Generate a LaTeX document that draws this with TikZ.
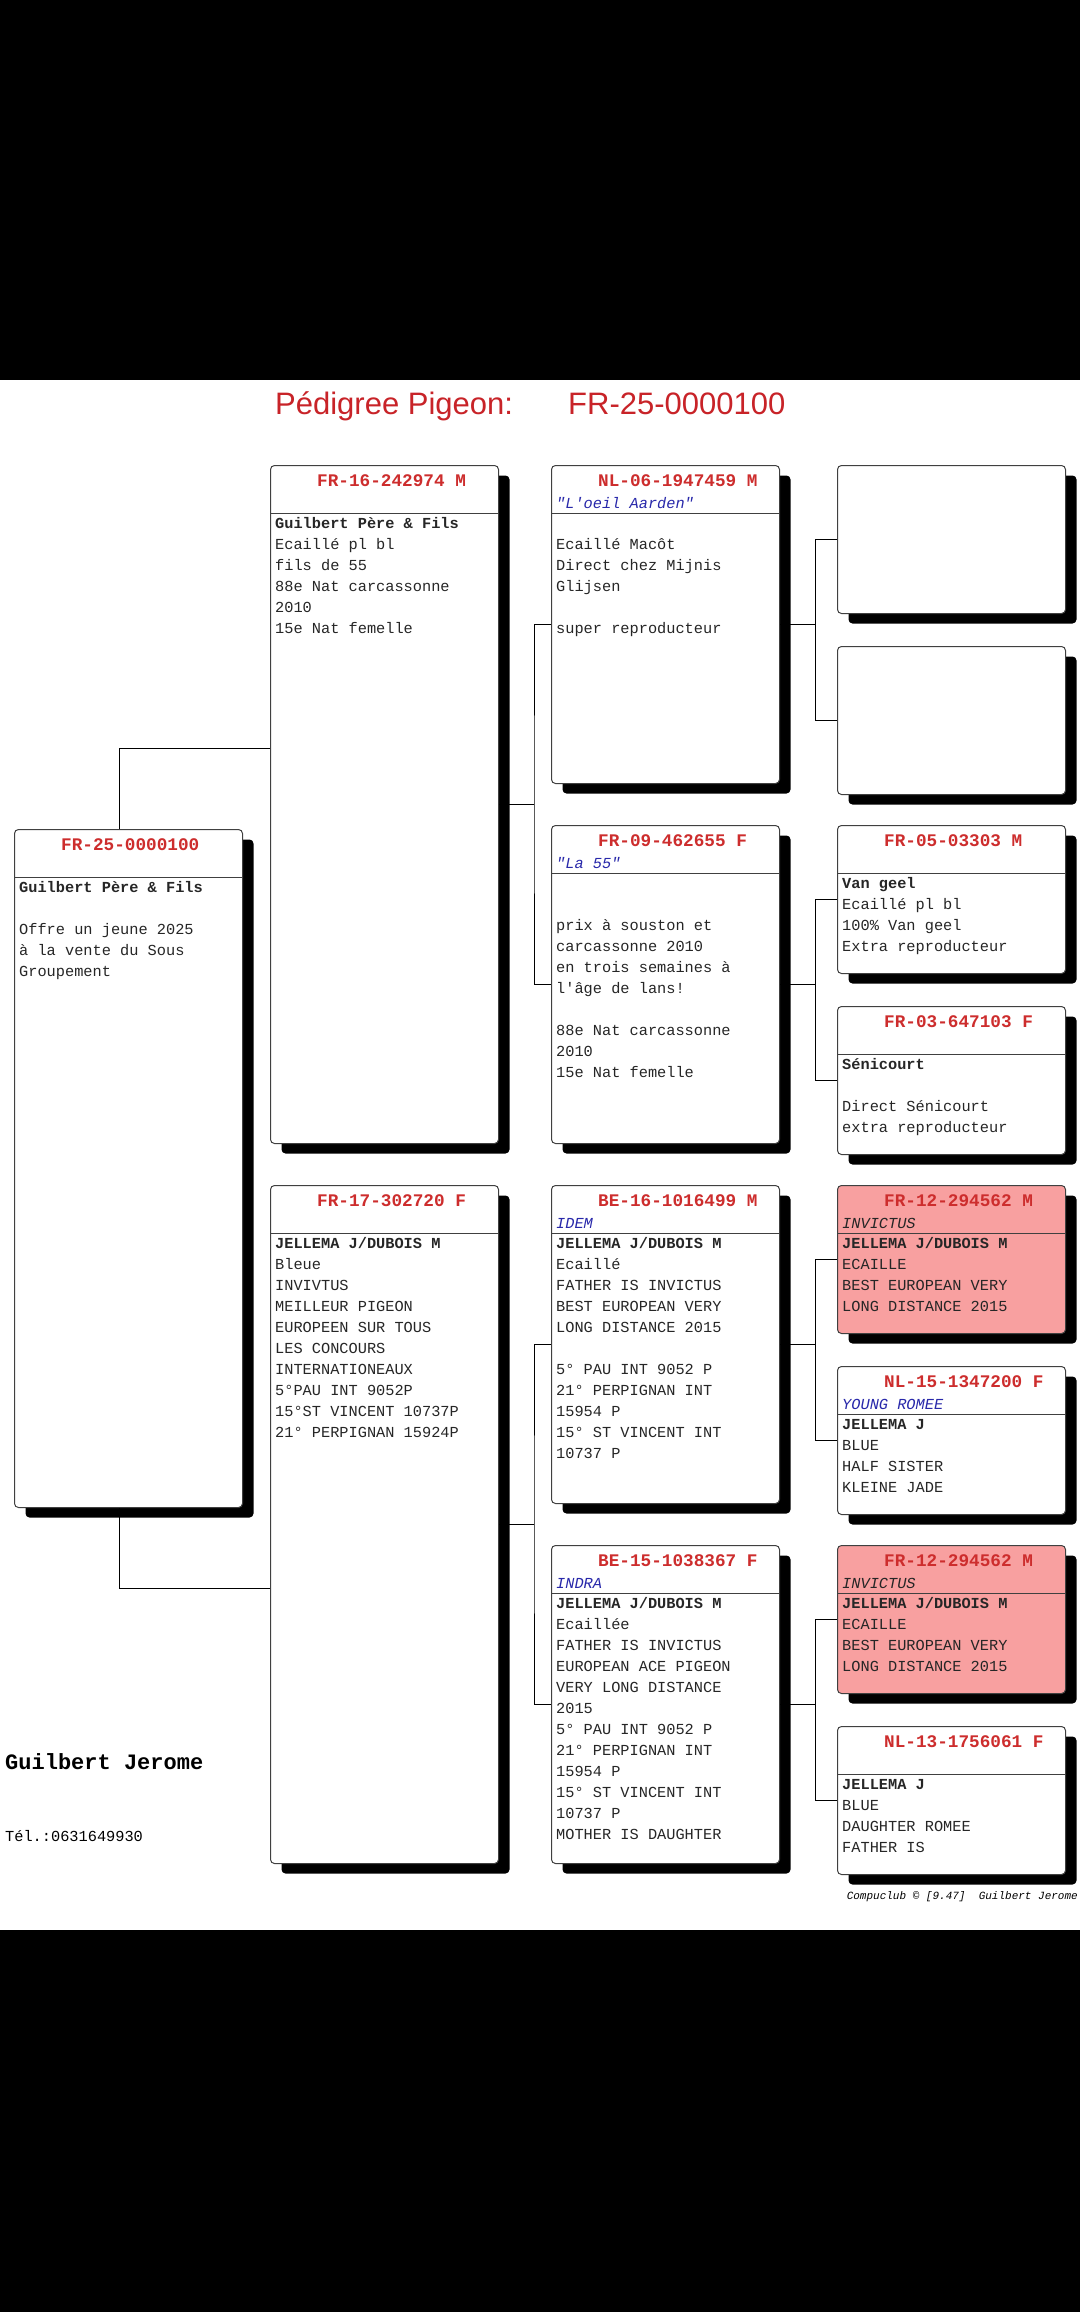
\documentclass[tikz,border=0pt]{standalone}
\usepackage{fontspec}
\usetikzlibrary{shadows,positioning}
\newfontfamily\monofam{Liberation Mono}
\newfontfamily\arialfam{Liberation Sans}
\newcommand\bodyfont{\monofam\fontsize{15.3}{21}\selectfont}
\newcommand\ringfont{\monofam\bfseries\fontsize{17.7}{21}\selectfont}
\definecolor{idred}{RGB}{205,45,45}
\definecolor{titlered}{RGB}{200,35,40}
\definecolor{nickblue}{RGB}{40,40,170}
\definecolor{pinkbox}{RGB}{248,160,160}

\begin{document}
\begin{tikzpicture}[x=1pt, y=-1pt]
\tikzstyle{card} = [ rectangle, draw=black!75, line width=1pt, fill=white, rounded corners=4pt, minimum width=228pt, inner sep=0pt, anchor=north west, drop shadow={shadow xshift=11pt, shadow yshift=-10pt, fill=black, opacity=1} ]
\tikzstyle{ruled} = [ path picture={\draw[black!75, line width=1pt] ([yshift=-48pt]path picture bounding box.north west) -- ([yshift=-48pt]path picture bounding box.north east);} ]
\tikzstyle{boxtall} = [ card, ruled, minimum height=678pt ]
\tikzstyle{boxmid} = [ card, ruled, minimum height=318pt ]
\tikzstyle{boxsmall} = [ card, minimum height=148pt ]
\tikzstyle{hot} = [ fill=pinkbox ]
\tikzstyle{ring} = [ anchor=base west, inner sep=0pt, font=\ringfont, text=idred ]
\tikzstyle{nick} = [ anchor=base west, inner sep=0pt, font=\bodyfont\itshape, text=nickblue ]
\tikzstyle{notes} = [ anchor=north west, inner sep=0pt, align=left, font=\bodyfont, text=black!85 ]
\tikzstyle{line} = [ draw, line width=1pt ]
% page
\fill[black] (0,0) rectangle (1080,2312);
\fill[white] (0,380) rectangle (1080,1930);
\useasboundingbox (0,0) rectangle (1080,2312);
% title
\node[anchor=base west, inner sep=0pt, font=\arialfam\fontsize{31}{36}\selectfont, text=titlered] (title) at (275,414) {Pédigree Pigeon:};
\node[anchor=base west, inner sep=0pt, font=\arialfam\fontsize{31}{36}\selectfont, text=titlered] (title-ring) at (568,414) {FR-25-0000100};
% place cards
\node [boxtall] (subj) at (14,829) {};
\node [boxtall] (fa) at (270,465) {};
\node [boxtall] (mo) at (270,1185) {};
\node [boxmid] (ff) at (551,465) {};
\node [boxmid] (fm) at (551,825) {};
\node [boxmid] (mf) at (551,1185) {};
\node [boxmid] (mm) at (551,1545) {};
\node [boxsmall] (fff) at (837,465) {};
\node [boxsmall] (ffm) at (837,646) {};
\node [boxsmall, ruled] (fmf) at (837,825) {};
\node [boxsmall, ruled] (fmm) at (837,1006) {};
\node [boxsmall, ruled, hot] (mff) at (837,1185) {};
\node [boxsmall, ruled] (mfm) at (837,1366) {};
\node [boxsmall, ruled, hot] (mmf) at (837,1545) {};
\node [boxsmall, ruled] (mmm) at (837,1726) {};

% card texts
\node [ring] (subj-id) at ([xshift=47pt, yshift=-21pt]subj.north west) {FR-25-0000100};
\node [notes] (subj-txt) at ([xshift=5pt, yshift=-49pt]subj.north west) {\strut\textbf{Guilbert Père \& Fils}\\~\\Offre un jeune 2025\\à la vente du Sous\\Groupement};

\node [ring] (fa-id) at ([xshift=47pt, yshift=-21pt]fa.north west) {FR-16-242974 M};
\node [notes] (fa-txt) at ([xshift=5pt, yshift=-49pt]fa.north west) {\strut\textbf{Guilbert Père \& Fils}\\Ecaillé pl bl\\fils de 55\\88e Nat carcassonne\\2010\\15e Nat femelle};

\node [ring] (mo-id) at ([xshift=47pt, yshift=-21pt]mo.north west) {FR-17-302720 F};
\node [notes] (mo-txt) at ([xshift=5pt, yshift=-49pt]mo.north west) {\strut\textbf{JELLEMA J/DUBOIS M}\\Bleue\\INVIVTUS\\MEILLEUR PIGEON\\EUROPEEN SUR TOUS\\LES CONCOURS\\INTERNATIONEAUX\\5°PAU INT 9052P\\15°ST VINCENT 10737P\\21° PERPIGNAN 15924P};

\node [ring] (ff-id) at ([xshift=47pt, yshift=-21pt]ff.north west) {NL-06-1947459 M};
\node [nick] (ff-nick) at ([xshift=5pt, yshift=-43pt]ff.north west) {"L'oeil Aarden"};
\node [notes] (ff-txt) at ([xshift=5pt, yshift=-49pt]ff.north west) {\strut~\\Ecaillé Macôt\\Direct chez Mijnis\\Glijsen\\~\\super reproducteur};

\node [ring] (fm-id) at ([xshift=47pt, yshift=-21pt]fm.north west) {FR-09-462655 F};
\node [nick] (fm-nick) at ([xshift=5pt, yshift=-43pt]fm.north west) {"La 55"};
\node [notes] (fm-txt) at ([xshift=5pt, yshift=-49pt]fm.north west) {\strut~\\~\\prix à souston et\\carcassonne 2010\\en trois semaines à\\l'âge de lans!\\~\\88e Nat carcassonne\\2010\\15e Nat femelle};

\node [ring] (mf-id) at ([xshift=47pt, yshift=-21pt]mf.north west) {BE-16-1016499 M};
\node [nick] (mf-nick) at ([xshift=5pt, yshift=-43pt]mf.north west) {IDEM};
\node [notes] (mf-txt) at ([xshift=5pt, yshift=-49pt]mf.north west) {\strut\textbf{JELLEMA J/DUBOIS M}\\Ecaillé\\FATHER IS INVICTUS\\BEST EUROPEAN VERY\\LONG DISTANCE 2015\\~\\5° PAU INT 9052 P\\21° PERPIGNAN INT\\15954 P\\15° ST VINCENT INT\\10737 P};

\node [ring] (mm-id) at ([xshift=47pt, yshift=-21pt]mm.north west) {BE-15-1038367 F};
\node [nick] (mm-nick) at ([xshift=5pt, yshift=-43pt]mm.north west) {INDRA};
\node [notes] (mm-txt) at ([xshift=5pt, yshift=-49pt]mm.north west) {\strut\textbf{JELLEMA J/DUBOIS M}\\Ecaillée\\FATHER IS INVICTUS\\EUROPEAN ACE PIGEON\\VERY LONG DISTANCE\\2015\\5° PAU INT 9052 P\\21° PERPIGNAN INT\\15954 P\\15° ST VINCENT INT\\10737 P\\MOTHER IS DAUGHTER};

\node [ring] (fmf-id) at ([xshift=47pt, yshift=-21pt]fmf.north west) {FR-05-03303 M};
\node [notes] (fmf-txt) at ([xshift=5pt, yshift=-49pt]fmf.north west) {\strut\textbf{Van geel}\\Ecaillé pl bl\\100\% Van geel\\Extra reproducteur};

\node [ring] (fmm-id) at ([xshift=47pt, yshift=-21pt]fmm.north west) {FR-03-647103 F};
\node [notes] (fmm-txt) at ([xshift=5pt, yshift=-49pt]fmm.north west) {\strut\textbf{Sénicourt}\\~\\Direct Sénicourt\\extra reproducteur};

\node [ring] (mff-id) at ([xshift=47pt, yshift=-21pt]mff.north west) {FR-12-294562 M};
\node [nick, text=black!85] (mff-nick) at ([xshift=5pt, yshift=-43pt]mff.north west) {INVICTUS};
\node [notes] (mff-txt) at ([xshift=5pt, yshift=-49pt]mff.north west) {\strut\textbf{JELLEMA J/DUBOIS M}\\ECAILLE\\BEST EUROPEAN VERY\\LONG DISTANCE 2015};

\node [ring] (mfm-id) at ([xshift=47pt, yshift=-21pt]mfm.north west) {NL-15-1347200 F};
\node [nick] (mfm-nick) at ([xshift=5pt, yshift=-43pt]mfm.north west) {YOUNG ROMEE};
\node [notes] (mfm-txt) at ([xshift=5pt, yshift=-49pt]mfm.north west) {\strut\textbf{JELLEMA J}\\BLUE\\HALF SISTER\\KLEINE JADE};

\node [ring] (mmf-id) at ([xshift=47pt, yshift=-21pt]mmf.north west) {FR-12-294562 M};
\node [nick, text=black!85] (mmf-nick) at ([xshift=5pt, yshift=-43pt]mmf.north west) {INVICTUS};
\node [notes] (mmf-txt) at ([xshift=5pt, yshift=-49pt]mmf.north west) {\strut\textbf{JELLEMA J/DUBOIS M}\\ECAILLE\\BEST EUROPEAN VERY\\LONG DISTANCE 2015};

\node [ring] (mmm-id) at ([xshift=47pt, yshift=-21pt]mmm.north west) {NL-13-1756061 F};
\node [notes] (mmm-txt) at ([xshift=5pt, yshift=-49pt]mmm.north west) {\strut\textbf{JELLEMA J}\\BLUE\\DAUGHTER ROMEE\\FATHER IS};

% footer
\node [anchor=base west, inner sep=0pt, font=\monofam\bfseries\fontsize{22}{26}\selectfont] (breeder) at (5,1769) {Guilbert Jerome};
\node [anchor=base west, inner sep=0pt, font=\bodyfont] (phone) at (5,1841) {Tél.:0631649930};
\node [anchor=base east, inner sep=0pt, font=\monofam\itshape\fontsize{11}{13}\selectfont] (credit) at (1078,1899) {Compuclub © [9.47]~~Guilbert Jerome};

% draw edges
\path [line] ([xshift=-9pt]subj.north) |- ([yshift=56pt]fa.west) ;
\path [line] ([xshift=-9pt]subj.south) |- ([yshift=-64pt]mo.west) ;
\path [line] (fa.east) -- ++(35pt,0) coordinate (fa-j) ;
\path [line] (ff.west) -| (fa-j) |- (fm.west) ;
\path [line] (mo.east) -- ++(35pt,0) coordinate (mo-j) ;
\path [line] (mf.west) -| (mo-j) |- (mm.west) ;
\path [line] (ff.east) -- ++(35pt,0) coordinate (ff-j) ;
\path [line] (fff.west) -| (ff-j) |- (ffm.west) ;
\path [line] (fm.east) -- ++(35pt,0) coordinate (fm-j) ;
\path [line] (fmf.west) -| (fm-j) |- (fmm.west) ;
\path [line] (mf.east) -- ++(35pt,0) coordinate (mf-j) ;
\path [line] (mff.west) -| (mf-j) |- (mfm.west) ;
\path [line] (mm.east) -- ++(35pt,0) coordinate (mm-j) ;
\path [line] (mmf.west) -| (mm-j) |- (mmm.west) ;

\end{tikzpicture}
\end{document}
